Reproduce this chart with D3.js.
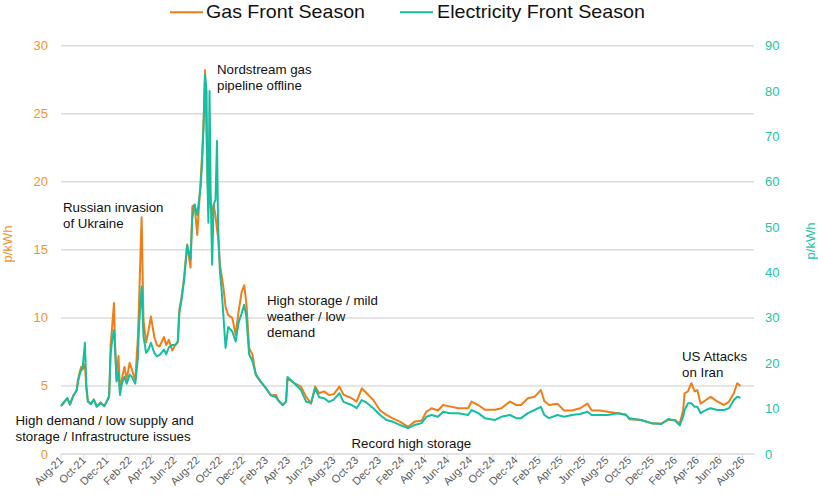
<!DOCTYPE html>
<html><head><meta charset="utf-8">
<script src="https://cdn.jsdelivr.net/npm/d3@7"></script>
<style>body{margin:0;background:#fff} svg{font-family:"Liberation Sans",Arial,sans-serif}</style>
</head><body><svg id="c" width="818" height="497"></svg>
<script>
const dates = [
"2021-08-01","2021-08-10","2021-08-18","2021-08-25","2021-09-03","2021-09-12","2021-09-15","2021-09-20","2021-09-24","2021-09-28",
"2021-10-04","2021-10-08","2021-10-12","2021-10-20","2021-10-28","2021-11-05","2021-11-15","2021-11-25","2021-12-02","2021-12-08",
"2021-12-12","2021-12-16","2021-12-21","2021-12-24","2021-12-28","2022-01-02","2022-01-06","2022-01-11","2022-01-18","2022-01-24",
"2022-02-01","2022-02-07","2022-02-16","2022-02-23","2022-02-26","2022-03-05","2022-03-10","2022-03-17","2022-03-23","2022-03-30",
"2022-04-08","2022-04-15","2022-04-22","2022-05-04","2022-05-10","2022-05-17","2022-05-26","2022-06-03","2022-06-10","2022-06-14",
"2022-06-20","2022-06-27","2022-07-05","2022-07-14","2022-07-19","2022-07-25","2022-08-01","2022-08-10","2022-08-14","2022-08-18",
"2022-08-22","2022-08-26","2022-08-28","2022-08-31","2022-09-03","2022-09-06","2022-09-10","2022-09-14","2022-09-19","2022-09-23",
"2022-09-26","2022-10-01","2022-10-05","2022-10-10","2022-10-16","2022-10-23","2022-11-03","2022-11-12","2022-11-20","2022-11-28",
"2022-12-05","2022-12-11","2022-12-18","2022-12-27","2023-01-05","2023-01-18","2023-02-01","2023-02-14","2023-02-28","2023-03-06",
"2023-03-18","2023-03-27","2023-03-31","2023-04-18","2023-05-06","2023-05-20","2023-06-02","2023-06-13","2023-06-24","2023-07-07",
"2023-07-20","2023-08-02","2023-08-17","2023-08-28","2023-09-19","2023-10-02","2023-10-16","2023-10-29","2023-11-16","2023-12-04",
"2023-12-21","2024-01-08","2024-01-26","2024-02-17","2024-03-06","2024-03-24","2024-04-06","2024-04-20","2024-05-07","2024-05-21",
"2024-06-07","2024-07-01","2024-07-27","2024-08-05","2024-08-23","2024-09-10","2024-10-07","2024-10-24","2024-11-16","2024-12-03",
"2024-12-16","2025-01-03","2025-01-21","2025-02-07","2025-02-16","2025-03-01","2025-03-23","2025-04-10","2025-05-01","2025-05-23",
"2025-06-12","2025-06-23","2025-07-15","2025-08-05","2025-09-01","2025-09-23","2025-10-02","2025-11-02","2025-12-01","2025-12-27",
"2026-01-14","2026-02-01","2026-02-14","2026-02-23","2026-02-27","2026-03-08","2026-03-17","2026-03-26","2026-04-02","2026-04-11",
"2026-04-25","2026-05-08","2026-05-26","2026-06-13","2026-06-26","2026-07-09","2026-07-18","2026-07-27"
];
const gas = [
3.5,3.8,4.1,3.6,4.3,4.7,5.4,6.0,6.4,6.2,
6.6,4.8,3.9,3.7,4.0,3.5,3.8,3.5,3.9,4.2,
8.0,9.3,11.1,8.0,5.4,7.2,4.7,5.5,6.4,5.5,
6.7,6.2,5.4,8.6,11.0,17.4,9.85,8.2,9.0,10.1,
8.6,8.0,7.9,8.6,8.0,8.4,7.6,8.0,8.2,10.6,
11.5,13.0,15.4,13.7,18.2,18.3,16.1,20.0,22.0,24.4,
28.2,23.2,21.0,18.0,19.5,18.5,17.5,18.3,17.5,16.5,
15.9,13.9,13.2,12.3,10.8,10.2,10.0,8.75,10.5,11.9,
12.4,11.0,7.8,7.3,5.8,5.3,4.85,4.3,4.34,3.97,
3.6,3.85,5.57,5.2,4.95,4.2,3.7,4.95,4.46,4.6,
4.34,4.4,4.95,4.35,4.1,3.85,4.83,4.46,3.97,3.2,
2.87,2.6,2.38,2.0,2.38,2.45,3.1,3.36,3.2,3.6,
3.5,3.36,3.36,3.85,3.6,3.25,3.25,3.36,3.85,3.6,
3.6,4.1,4.2,4.7,3.9,3.6,3.7,3.2,3.2,3.36,
3.7,3.2,3.2,3.1,3.0,2.9,2.55,2.5,2.25,2.25,
2.5,2.5,2.25,3.2,4.46,4.6,5.2,4.6,4.7,3.7,
3.97,4.2,3.85,3.6,3.85,4.46,5.2,5.0
];
const elec = [
10.6,11.6,12.3,11.0,12.8,14.0,15.6,17.5,18.5,19.0,
24.5,15.0,11.5,11.0,12.0,10.4,11.2,10.6,11.6,12.8,
22.0,25.0,27.3,23.0,16.0,18.0,13.0,15.5,17.0,15.5,
17.5,17.0,15.5,21.0,28.0,36.9,26.0,22.3,23.0,24.5,
22.3,21.5,21.8,23.0,22.0,23.5,24.0,24.0,24.8,31.0,
34.0,38.4,46.0,43.0,52.0,55.0,52.7,58.7,64.0,72.0,
83.6,80.0,62.0,51.0,80.0,58.0,41.7,55.0,56.0,69.0,
50.0,40.0,36.6,30.7,23.4,28.0,27.0,24.8,29.0,31.0,
32.9,30.0,22.0,20.5,17.6,16.0,14.5,13.0,12.5,11.8,
10.8,11.5,17.0,15.6,14.1,11.5,11.3,14.5,12.5,12.3,
11.5,12.0,13.4,11.5,10.8,10.1,11.9,11.3,10.1,8.6,
7.5,7.1,6.4,5.7,6.4,6.8,8.2,8.6,8.2,9.3,
9.0,9.0,8.6,9.7,9.0,7.9,7.5,8.2,8.6,7.9,
7.9,9.0,9.7,10.4,8.6,7.9,8.6,8.2,8.6,8.8,
9.3,8.6,8.6,8.6,9.0,8.6,7.9,7.5,6.8,6.6,
7.7,7.4,6.3,8.2,9.7,11.2,11.2,10.4,10.4,9.0,
9.7,10.1,9.7,9.7,10.1,11.9,12.6,12.4
];
const leftTicks = [0,5,10,15,20,25,30];
const rightTicks = [0,10,20,30,40,50,60,70,80,90];
const annotations = [
  {lines:["Nordstream gas","pipeline offline"], x:217, y:74},
  {lines:["Russian invasion","of Ukraine"], x:63, y:212},
  {lines:["High storage / mild","weather / low","demand"], x:267, y:305},
  {lines:["High demand / low supply and","storage / Infrastructure issues"], x:15.5, y:425},
  {lines:["Record high storage"], x:351.5, y:447.5},
  {lines:["US Attacks","on Iran"], x:682, y:361}
];
const legendItems = [
  {name:"Gas Front Season", key:"gas", lx:170, tx:206, tw:159},
  {name:"Electricity Front Season", key:"elec", lx:400, tx:437, tw:208}
];
const colors = {gas:"#EE7D1A", elec:"#14BE9E"};

const parse = d3.utcParse("%Y-%m-%d");
const svg = d3.select("#c");
const x = d3.scaleUtc().domain([Date.UTC(2021,7,1), Date.UTC(2026,8,1)]).range([61,754]);
const y = d3.scaleLinear().domain([0,30]).range([454,45.7]);
const y2 = d3.scaleLinear().domain([0,90]).range([454,45.7]);

// gridlines
svg.append("g").selectAll("line").data(leftTicks.slice(1)).join("line")
  .attr("x1",61).attr("x2",754).attr("y1",d=>y(d)).attr("y2",d=>y(d))
  .attr("stroke","#DCDCDC").attr("stroke-width",1.5);

// left axis labels
svg.append("g").selectAll("text").data(leftTicks).join("text")
  .attr("x",48).attr("y",d=>y(d)+4.5).attr("text-anchor","end")
  .attr("font-size",13).attr("fill","#F2932E").text(d=>d);
// right axis labels
svg.append("g").selectAll("text").data(rightTicks).join("text")
  .attr("x",765).attr("y",d=>y2(d)+4.5).attr("text-anchor","start")
  .attr("font-size",13).attr("fill","#22C3A6").text(d=>d);

// axis titles
svg.append("text").attr("transform","translate(12,244) rotate(-90)")
  .attr("text-anchor","middle").attr("font-size",13).attr("fill","#F2932E").text("p/kWh");
svg.append("text").attr("transform","translate(815,241) rotate(-90)")
  .attr("text-anchor","middle").attr("font-size",13).attr("fill","#22C3A6").text("p/kWh");

// x axis
const xTicks = d3.utcMonth.range(new Date(Date.UTC(2021,7,1)), new Date(Date.UTC(2026,8,2)), 2);
const xAxis = svg.append("g");
xAxis.append("line").attr("x1",61).attr("x2",754).attr("y1",454).attr("y2",454)
  .attr("stroke","#D9D9D9").attr("stroke-width",1.5);
xAxis.selectAll("line.t").data(xTicks).join("line").attr("class","t")
  .attr("x1",d=>x(d)).attr("x2",d=>x(d)).attr("y1",454).attr("y2",458.5)
  .attr("stroke","#D9D9D9").attr("stroke-width",1);
const fmt = d3.utcFormat("%b-%y");
xAxis.selectAll("text").data(xTicks).join("text")
  .attr("transform",d=>`translate(${x(d)+3},${461}) rotate(-45)`)
  .attr("text-anchor","end").attr("font-size",11).attr("fill","#595959").text(d=>fmt(d));

// lines
const gasData = dates.map((d,i)=>({date:parse(d), v:gas[i]}));
const elecData = dates.map((d,i)=>({date:parse(d), v:elec[i]}));
svg.append("path").datum(gasData)
  .attr("d", d3.line().x(d=>x(d.date)).y(d=>y(d.v)))
  .attr("fill","none").attr("stroke",colors.gas).attr("stroke-width",2).attr("stroke-linejoin","round");
svg.append("path").datum(elecData)
  .attr("d", d3.line().x(d=>x(d.date)).y(d=>y2(d.v)))
  .attr("fill","none").attr("stroke",colors.elec).attr("stroke-width",2).attr("stroke-linejoin","round");

// annotations
annotations.forEach(a=>{
  const t = svg.append("text").attr("font-size",13.3).attr("fill","#111");
  a.lines.forEach((l,i)=>t.append("tspan").attr("x",a.x).attr("y",a.y+i*16).text(l));
});

// legend
const lg = svg.append("g");
legendItems.forEach(it=>{
  lg.append("line").attr("x1",it.lx).attr("x2",it.lx+33).attr("y1",12.3).attr("y2",12.3)
    .attr("stroke",colors[it.key]).attr("stroke-width",2);
  lg.append("text").attr("x",it.tx).attr("y",18).attr("font-size",18.5)
    .attr("textLength",it.tw).attr("lengthAdjust","spacingAndGlyphs")
    .attr("fill","#111").text(it.name);
});
</script></body></html>
